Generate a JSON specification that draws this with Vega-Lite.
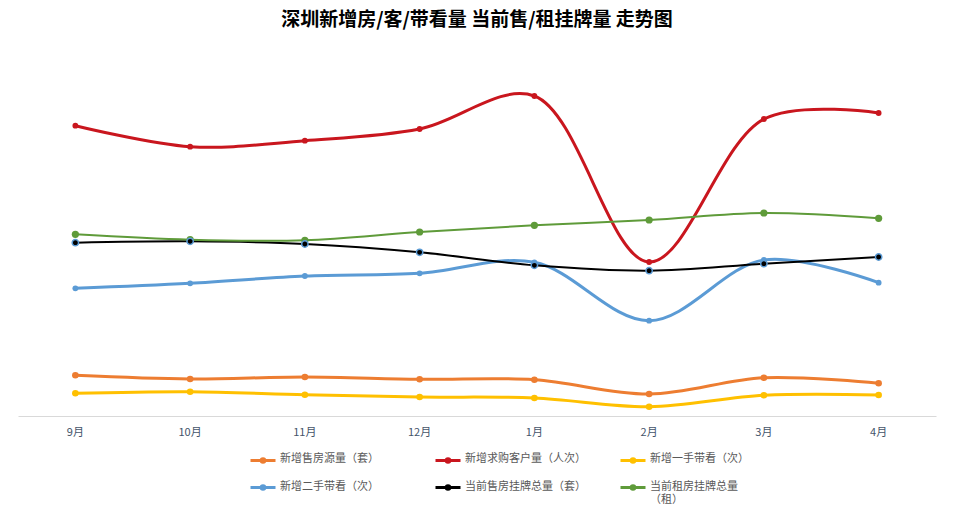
{
  "$schema": "https://vega.github.io/schema/vega-lite/v6.json",
  "autosize": {"type": "none"},
  "width": 918,
  "height": 375,
  "padding": {"left": 18, "top": 41, "right": 20, "bottom": 100},
  "background": "white",
  "title": {
    "text": "深圳新增房/客/带看量 当前售/租挂牌量 走势图",
    "font": "Noto Sans CJK SC",
    "fontSize": 19,
    "fontWeight": "bold",
    "color": "#000000",
    "offset": 11
  },
  "config": {
    "view": {"stroke": null},
    "font": "Noto Sans CJK SC",
    "legend": {"symbolSize": 100}
  },
  "data": {
    "values": [
      {"series": "新增售房源量（套）", "month": "9月", "value": 40.7},
      {"series": "新增售房源量（套）", "month": "10月", "value": 37},
      {"series": "新增售房源量（套）", "month": "11月", "value": 39},
      {"series": "新增售房源量（套）", "month": "12月", "value": 36.7},
      {"series": "新增售房源量（套）", "month": "1月", "value": 36.3},
      {"series": "新增售房源量（套）", "month": "2月", "value": 22},
      {"series": "新增售房源量（套）", "month": "3月", "value": 38.3},
      {"series": "新增售房源量（套）", "month": "4月", "value": 32.7},
      {"series": "新增求购客户量（人次）", "month": "9月", "value": 290.3},
      {"series": "新增求购客户量（人次）", "month": "10月", "value": 269.3},
      {"series": "新增求购客户量（人次）", "month": "11月", "value": 275.3},
      {"series": "新增求购客户量（人次）", "month": "12月", "value": 287},
      {"series": "新增求购客户量（人次）", "month": "1月", "value": 320},
      {"series": "新增求购客户量（人次）", "month": "2月", "value": 154},
      {"series": "新增求购客户量（人次）", "month": "3月", "value": 297},
      {"series": "新增求购客户量（人次）", "month": "4月", "value": 303},
      {"series": "新增一手带看（次）", "month": "9月", "value": 22.7},
      {"series": "新增一手带看（次）", "month": "10月", "value": 24.3},
      {"series": "新增一手带看（次）", "month": "11月", "value": 21.3},
      {"series": "新增一手带看（次）", "month": "12月", "value": 19},
      {"series": "新增一手带看（次）", "month": "1月", "value": 18},
      {"series": "新增一手带看（次）", "month": "2月", "value": 9.3},
      {"series": "新增一手带看（次）", "month": "3月", "value": 20.7},
      {"series": "新增一手带看（次）", "month": "4月", "value": 21},
      {"series": "新增二手带看（次）", "month": "9月", "value": 127.7},
      {"series": "新增二手带看（次）", "month": "10月", "value": 132.7},
      {"series": "新增二手带看（次）", "month": "11月", "value": 140},
      {"series": "新增二手带看（次）", "month": "12月", "value": 142.7},
      {"series": "新增二手带看（次）", "month": "1月", "value": 153.7},
      {"series": "新增二手带看（次）", "month": "2月", "value": 95.3},
      {"series": "新增二手带看（次）", "month": "3月", "value": 156},
      {"series": "新增二手带看（次）", "month": "4月", "value": 133.3},
      {"series": "当前售房挂牌总量（套）", "month": "9月", "value": 173.3},
      {"series": "当前售房挂牌总量（套）", "month": "10月", "value": 174.7},
      {"series": "当前售房挂牌总量（套）", "month": "11月", "value": 172},
      {"series": "当前售房挂牌总量（套）", "month": "12月", "value": 163.7},
      {"series": "当前售房挂牌总量（套）", "month": "1月", "value": 150.7},
      {"series": "当前售房挂牌总量（套）", "month": "2月", "value": 145.3},
      {"series": "当前售房挂牌总量（套）", "month": "3月", "value": 152.3},
      {"series": "当前售房挂牌总量（套）", "month": "4月", "value": 159},
      {"series": "当前租房挂牌总量（租）", "month": "9月", "value": 181.7},
      {"series": "当前租房挂牌总量（租）", "month": "10月", "value": 176.3},
      {"series": "当前租房挂牌总量（租）", "month": "11月", "value": 175.7},
      {"series": "当前租房挂牌总量（租）", "month": "12月", "value": 184},
      {"series": "当前租房挂牌总量（租）", "month": "1月", "value": 190.7},
      {"series": "当前租房挂牌总量（租）", "month": "2月", "value": 196},
      {"series": "当前租房挂牌总量（租）", "month": "3月", "value": 203},
      {"series": "当前租房挂牌总量（租）", "month": "4月", "value": 197.7}
    ]
  },
  "encoding": {
    "x": {
      "field": "month",
      "type": "ordinal",
      "sort": ["9月", "10月", "11月", "12月", "1月", "2月", "3月", "4月"],
      "scale": {"type": "band", "paddingInner": 0, "paddingOuter": 0},
      "axis": {
        "title": null,
        "labelAngle": 0,
        "ticks": false,
        "domainColor": "#D9D9D9",
        "domainWidth": 1,
        "labelFont": "Noto Sans CJK SC",
        "labelFontSize": 11,
        "labelColor": "#44546A",
        "labelPadding": 10,
        "grid": false
      }
    },
    "y": {
      "field": "value",
      "type": "quantitative",
      "scale": {"domain": [0, 375], "nice": false, "zero": true},
      "axis": null
    },
    "color": {
      "field": "series",
      "type": "nominal",
      "scale": {
        "domain": ["新增售房源量（套）", "新增求购客户量（人次）", "新增一手带看（次）", "新增二手带看（次）", "当前售房挂牌总量（套）", "当前租房挂牌总量（租）"],
        "range": ["#ED7D31", "#C9161E", "#FFC000", "#5B9BD5", "#000000", "#5F9B3A"]
      },
      "legend": {
        "title": null,
        "orient": "none",
        "legendX": 231,
        "legendY": 401,
        "direction": "horizontal",
        "columns": 3,
        "gridAlign": "all",
        "columnPadding": 28,
        "rowPadding": 1,
        "symbolType": "M-1,1.4H4M1.85,1.4A0.35,0.35,0,1,1,1.15,1.4A0.35,0.35,0,1,1,1.85,1.4Z",
        "symbolSize": 100,
        "symbolStrokeWidth": 3,
        "labelFont": "Noto Sans CJK SC",
        "labelFontSize": 11,
        "labelColor": "#595959",
        "labelBaseline": "top",
        "labelOffset": 18,
        "labelExpr": "datum.label == '当前租房挂牌总量（租）' ? ['当前租房挂牌总量', '（租）'] : datum.label"
      }
    }
  },
  "layer": [
    {
      "transform": [{"filter": {"field": "series", "oneOf": ["新增售房源量（套）", "新增求购客户量（人次）", "新增一手带看（次）", "新增二手带看（次）"]}}],
      "mark": {"type": "line", "interpolate": "catmull-rom", "strokeWidth": 3}
    },
    {
      "transform": [{"filter": {"field": "series", "oneOf": ["当前售房挂牌总量（套）", "当前租房挂牌总量（租）"]}}],
      "mark": {"type": "line", "interpolate": "catmull-rom", "strokeWidth": 2}
    },
    {
      "transform": [{"filter": {"field": "series", "oneOf": ["新增求购客户量（人次）", "新增二手带看（次）"]}}],
      "mark": {"type": "point", "filled": true, "shape": "circle", "opacity": 1, "size": 34, "strokeWidth": 1}
    },
    {
      "transform": [{"filter": {"field": "series", "oneOf": ["新增售房源量（套）", "新增一手带看（次）"]}}],
      "mark": {"type": "point", "filled": true, "shape": "circle", "opacity": 1, "size": 44, "strokeWidth": 1}
    },
    {
      "transform": [{"filter": {"field": "series", "equal": "当前租房挂牌总量（租）"}}],
      "mark": {"type": "point", "filled": true, "shape": "circle", "opacity": 1, "size": 52, "strokeWidth": 1}
    },
    {
      "transform": [{"filter": {"field": "series", "equal": "当前售房挂牌总量（套）"}}],
      "mark": {"type": "point", "filled": true, "shape": "circle", "opacity": 1, "size": 40, "stroke": "#5B9BD5", "strokeWidth": 1.5}
    }
  ]
}
